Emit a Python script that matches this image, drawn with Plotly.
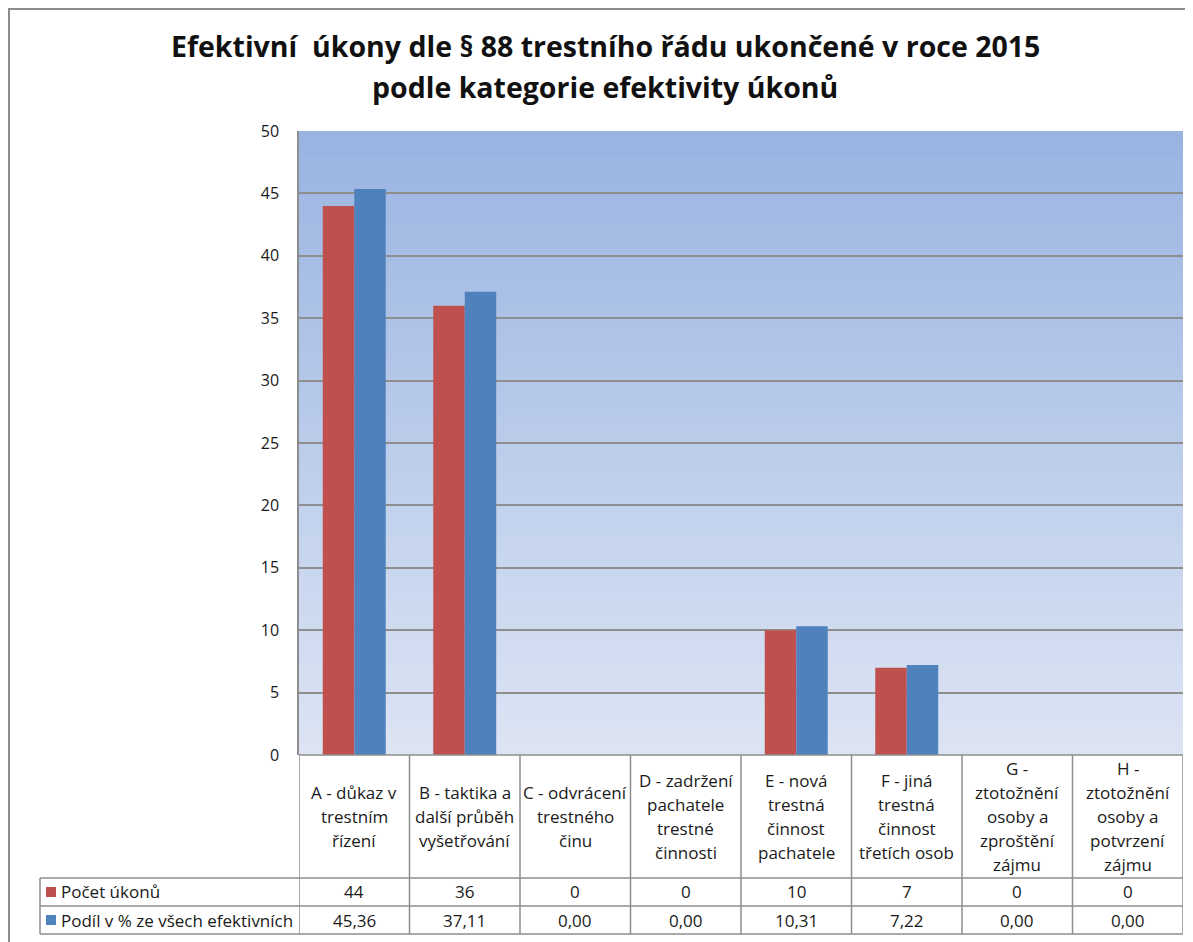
import plotly.graph_objects as go

# ---- data ----
categories = ["A", "B", "C", "D", "E", "F", "G", "H"]
category_labels = [
    ["A - důkaz v", "trestním", "řízení"],
    ["B - taktika a", "další průběh", "vyšetřování"],
    ["C - odvrácení", "trestného", "činu"],
    ["D - zadržení", "pachatele", "trestné", "činnosti"],
    ["E - nová", "trestná", "činnost", "pachatele"],
    ["F - jiná", "trestná", "činnost", "třetích osob"],
    ["G -", "ztotožnění", "osoby a", "zproštění", "zájmu"],
    ["H -", "ztotožnění", "osoby a", "potvrzení", "zájmu"],
]
series_names = ["Počet úkonů", "Podíl v % ze všech efektivních"]
pocet = [44, 36, 0, 0, 10, 7, 0, 0]
podil = [45.36, 37.11, 0.00, 0.00, 10.31, 7.22, 0.00, 0.00]
pocet_text = ["44", "36", "0", "0", "10", "7", "0", "0"]
podil_text = ["45,36", "37,11", "0,00", "0,00", "10,31", "7,22", "0,00", "0,00"]
title_lines = ["Efektivní  úkony dle § 88 trestního řádu ukončené v roce 2015",
               "podle kategorie efektivity úkonů"]

RED = "#c0504d"
BLUE = "#4f81bd"
FONT = "Open Sans"

OFF = 8  # page body margin
W, H = 1193 - OFF, 942 - OFF
L, R, T, B = 299 - OFF, 1183 - OFF, 131 - OFF, 755 - OFF
PW, PH = R - L, B - T


def px(x):
    # x in screen pixels -> paper
    return (x - OFF - L) / PW


def py(y):
    return (B - (y - OFF)) / PH


fig = go.Figure()
fig.add_trace(go.Bar(x=categories, y=pocet, name=series_names[0],
                     marker=dict(color=RED, line=dict(width=0))))
fig.add_trace(go.Bar(x=categories, y=podil, name=series_names[1],
                     marker=dict(color=BLUE, line=dict(width=0))))

shapes = []
# gradient background bands (overlapping to avoid seams)
n = 48
c_top = (0x99, 0xb3, 0xe1)
c_bot = (0xdd, 0xe5, 0xf4)
for i in range(n):
    t = (i + 0.5) / n
    c = tuple(int(round(c_top[k] + (c_bot[k] - c_top[k]) * t)) for k in range(3))
    y0 = 1 - i / n
    y1 = max(0, 1 - (i + 1.6) / n)
    shapes.append(dict(type="rect", xref="x domain", yref="y domain",
                       x0=0, x1=1, y0=y0, y1=y1,
                       fillcolor="rgb(%d,%d,%d)" % c, line=dict(width=0), layer="below"))

# outer frame
shapes.append(dict(type="rect", xref="paper", yref="paper",
                   x0=px(9), x1=px(1200), y0=py(9), y1=py(960),
                   line=dict(color="#8c8c8c", width=2), fillcolor="rgba(0,0,0,0)"))

grid = "#8e8e8e"
row_y = [755, 878, 906, 934]
shapes.append(dict(type="line", xref="paper", yref="paper", x0=0, x1=1,
                   y0=py(755), y1=py(755), line=dict(color=grid, width=1.5)))
for yy in row_y[1:]:
    shapes.append(dict(type="line", xref="paper", yref="paper", x0=px(40), x1=1,
                       y0=py(yy), y1=py(yy), line=dict(color=grid, width=1.5)))
for k in range(len(categories) + 1):
    shapes.append(dict(type="line", xref="x", yref="paper", x0=k - 0.5, x1=k - 0.5,
                       y0=py(755), y1=py(934), line=dict(color=grid, width=1.5)))
shapes.append(dict(type="line", xref="paper", yref="paper", x0=px(40), x1=px(40),
                   y0=py(878), y1=py(934), line=dict(color=grid, width=1.5)))
for yy, col in [(892, RED), (920, BLUE)]:
    shapes.append(dict(type="rect", xref="paper", yref="paper",
                       x0=px(46), x1=px(56), y0=py(yy - 5), y1=py(yy + 5),
                       fillcolor=col, line=dict(width=0)))

annotations = []
tf = dict(family=FONT, size=17, color="#1a1a1a")
for i, lines in enumerate(category_labels):
    nl = len(lines)
    for j, s in enumerate(lines):
        yc = 816.5 + 24 * (j - (nl - 1) / 2)
        annotations.append(dict(x=categories[i], xref="x", y=py(yc), yref="paper",
                                text=s, showarrow=False, font=tf,
                                xanchor="center", yanchor="middle"))
    annotations.append(dict(x=categories[i], xref="x", y=py(892), yref="paper",
                            text=pocet_text[i], showarrow=False, font=tf,
                            xanchor="center", yanchor="middle"))
    annotations.append(dict(x=categories[i], xref="x", y=py(920), yref="paper",
                            text=podil_text[i], showarrow=False, font=tf,
                            xanchor="center", yanchor="middle"))
for yy, name in [(892, series_names[0]), (920, series_names[1])]:
    annotations.append(dict(x=px(59), xref="paper", y=py(yy), yref="paper",
                            text=name, showarrow=False, font=tf,
                            xanchor="left", yanchor="middle"))
titlefont = dict(family=FONT, size=28.5, color="#111")
annotations.append(dict(x=px(605), xref="paper", y=py(46), yref="paper",
                        text="<b>%s</b>" % title_lines[0], showarrow=False,
                        font=titlefont, xanchor="center", yanchor="middle"))
annotations.append(dict(x=px(605), xref="paper", y=py(87), yref="paper",
                        text="<b>%s</b>" % title_lines[1], showarrow=False,
                        font=titlefont, xanchor="center", yanchor="middle"))

fig.update_layout(
    width=W, height=H,
    margin=dict(l=L, r=W - R, t=T, b=H - B, pad=0),
    paper_bgcolor="white", plot_bgcolor="rgba(0,0,0,0)",
    barmode="group", bargap=0.43, bargroupgap=0,
    showlegend=False,
    shapes=shapes, annotations=annotations,
    font=dict(family=FONT, size=16, color="#1a1a1a"),
)
fig.update_xaxes(showticklabels=False, showgrid=False, zeroline=False,
                 showline=False, ticks="", range=[-0.5, 7.5])
fig.update_yaxes(range=[0, 50], dtick=5, tick0=0, showgrid=True, gridcolor=grid,
                 gridwidth=1.5, zeroline=False, showline=True, linecolor=grid,
                 linewidth=1.5, ticks="", ticklabelstandoff=15,
                 tickfont=dict(family=FONT, size=16, color="#1a1a1a"))

fig.write_html("out.html")
